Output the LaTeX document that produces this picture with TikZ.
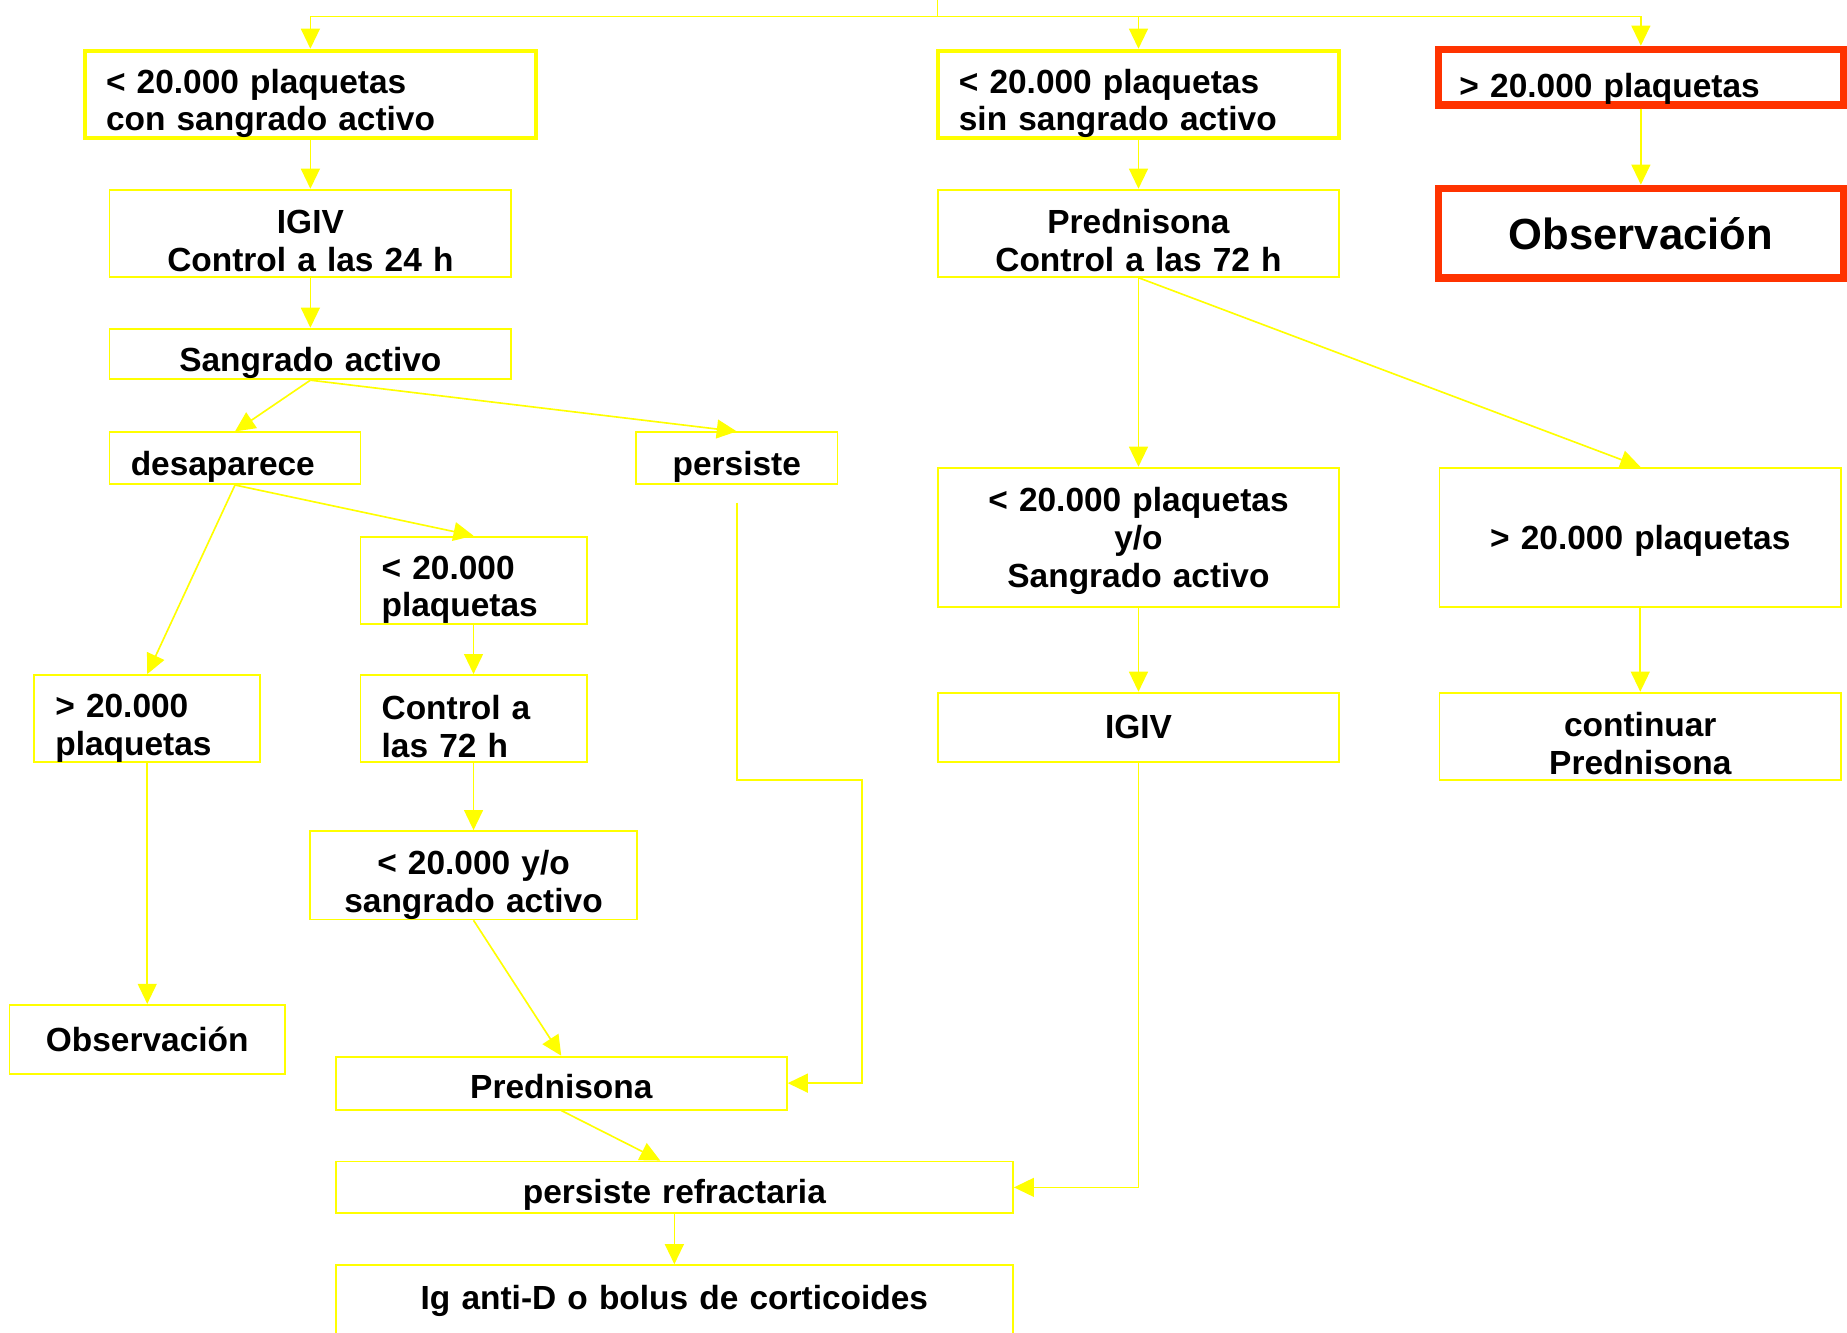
\documentclass[tikz,border=0pt]{standalone}
\usepackage{fontspec}
\setmainfont{Liberation Sans}
\usetikzlibrary{arrows.meta}
\definecolor{amarillo}{RGB}{255,255,0}
\definecolor{rojo}{RGB}{255,51,0}

\begin{document}
\begin{tikzpicture}[x=0.5pt,y=-0.5pt,
		>={Triangle[length=8.5pt,width=8pt]},
		arr/.style={->, draw=amarillo, line width=0.7pt},
		linea/.style={draw=amarillo, line width=0.7pt},
		bajo/.code={\def\altoCaja{#1}},
		caja/.style={draw=amarillo, line width=0.75pt, inner sep=0pt, bajo=18pt,
			execute at begin node={\rule{0pt}{\altoCaja}},
			font=\bfseries\fontsize{14.2}{16}\selectfont},
		cc/.style 2 args={caja, text width=#1, minimum height=#2, align=center},
		cl/.style 2 args={caja, text width=#1, minimum height=#2, align=left, inner xsep=9pt},
		gruesa/.style={line width=1.6pt},
		roja/.style={draw=rojo, line width=3.2pt}]

	\useasboundingbox (0,0) rectangle (1568,1131);

	\node[cl={173.5pt}{37pt}, gruesa] (conSang) at (263.5,80) {< 20.000 plaquetas\\con sangrado activo};
	\node[cl={152.5pt}{37pt}, gruesa] (sinSang) at (966.5,80) {< 20.000 plaquetas\\sin sangrado activo};
	\node[cl={154pt}{23.5pt}, roja, bajo=20pt] (mayor) at (1393,65.5) {> 20.000 plaquetas};
	\node[cc={172pt}{38pt}, roja, bajo=0pt, font=\bfseries\fontsize{18.5}{22}\selectfont] (obsG) at (1393,198) {Observación};

	\node[cc={170.5pt}{37pt}, bajo=16.5pt] (igiv) at (263.5,198) {IGIV\\Control a las 24 h};
	\node[cc={170.5pt}{37pt}, bajo=16.5pt] (pred72) at (966.5,198) {Prednisona\\Control a las 72 h};
	\node[cc={170.5pt}{21.5pt}] (sang) at (263.5,300.5) {Sangrado activo};
	\node[cl={88.5pt}{22pt}] (desap) at (199.5,389) {desaparece};
	\node[cc={85.5pt}{22pt}] (pers) at (625.5,389) {persiste};
	\node[cl={78pt}{36.5pt}] (menor1) at (402,492.5) {< 20.000\\plaquetas};
	\node[cl={78pt}{37pt}] (mayor1) at (125,610) {> 20.000\\plaquetas};
	\node[cl={78pt}{37pt}, bajo=17pt] (ctrl72) at (402,610) {Control a\\las 72 h};
	\node[cc={139pt}{37pt}, bajo=18.5pt] (menorYo) at (402,743) {< 20.000 y/o\\sangrado activo};
	\node[cc={117pt}{29.5pt}, bajo=0pt] (obs) at (125,882.5) {Observación};
	\node[cc={191.5pt}{22.5pt}, bajo=13.4pt] (pred) at (476.5,919.5) {Prednisona};
	\node[cc={287.5pt}{22pt}, bajo=16.5pt] (refr) at (572.5,1008) {persiste refractaria};
	\node[cc={287.5pt}{30pt}, bajo=0pt] (antiD) at (572.5,1104) {Ig anti-D o bolus de corticoides};

	\node[cc={170.5pt}{59pt}, bajo=13.4pt] (menor2) at (966.5,456) {< 20.000 plaquetas\\y/o\\Sangrado activo};
	\node[cc={170.5pt}{59pt}, bajo=13.4pt] (mayor2) at (1392.5,456) {> 20.000 plaquetas};
	\node[cc={170.5pt}{29.5pt}, bajo=0pt] (igiv2) at (966.5,617.5) {IGIV};
	\node[cc={170.5pt}{37pt}, bajo=16.5pt] (contP) at (1392.5,625) {continuar\\Prednisona};

	\coordinate (origen) at (796,0);
	\coordinate (reparto) at (796,14);
	\coordinate (codo) at (732,662);

	\draw[linea] (origen) -- (reparto);
	\draw[arr] (reparto) -| (conSang.north);
	\draw[arr] (reparto) -| (sinSang.north);
	\draw[arr] (reparto) -| (mayor.north);
	\draw[arr] (mayor) -- (obsG);

	\draw[arr] (conSang) -- (igiv);
	\draw[arr] (igiv) -- (sang);
	\draw[arr] (sang.south) -- (desap.north);
	\draw[arr] (sang.south) -- (pers.north);
	\draw[arr] (desap.south) -- (menor1.north);
	\draw[arr] (desap.south) -- (mayor1.north);
	\draw[arr] (menor1) -- (ctrl72);
	\draw[arr] (ctrl72) -- (menorYo);
	\draw[arr] (mayor1) -- (obs);
	\draw[arr] (menorYo.south) -- (pred.north);
	\draw[arr, shorten <=7.5pt] (pers.south) |- (codo) |- (pred.east);
	\draw[arr] (pred.south) -- ([xshift=-6pt]refr.north);
	\draw[arr] (refr) -- (antiD);

	\draw[arr] (sinSang) -- (pred72);
	\draw[arr] (pred72.south) -- (menor2.north);
	\draw[arr] (pred72.south) -- (mayor2.north);
	\draw[arr] (menor2) -- (igiv2);
	\draw[arr] (mayor2) -- (contP);
	\draw[arr] (igiv2.south) |- (refr.east);

\end{tikzpicture}
\end{document}
